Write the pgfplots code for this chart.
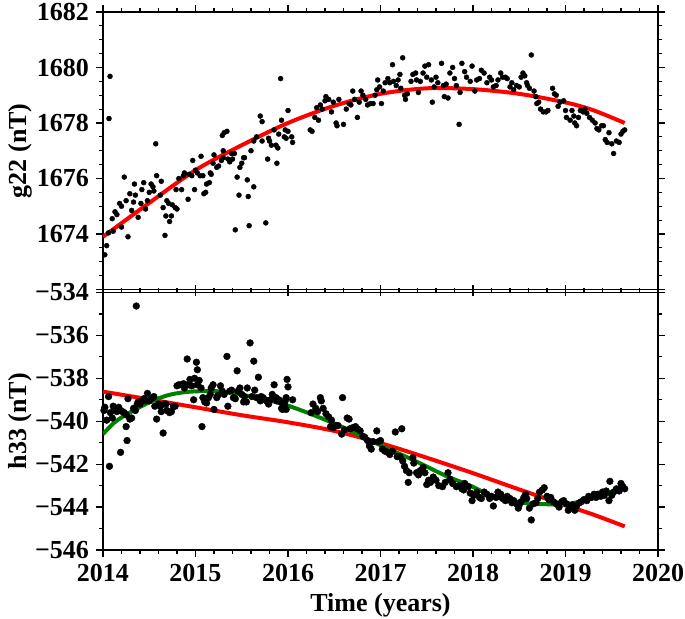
\documentclass[border=0pt]{standalone}
\usepackage{fontspec}
\setmainfont{Liberation Serif}
\usepackage{pgfplots}
\pgfplotsset{compat=1.18}
\definecolor{fitgreen}{RGB}{0,128,0}
\definecolor{fitred}{RGB}{255,0,0}

\begin{document}
\begin{tikzpicture}
\pgfplotsset{
 every axis/.append style={
  scale only axis, width=277.5pt,
  xmin=2014, xmax=2020,
  axis line style={line width=0.8pt},
  tick align=outside, tick style={line width=0.6pt, black},
  major tick length=3.5pt, minor tick length=2pt,
  xtick={2014,2015,2016,2017,2018,2019,2020}, minor x tick num=4,
  tick label style={font=\fontsize{13}{13}\selectfont\bfseries},
  /pgf/number format/assume math mode=true,
  every axis y label/.style={at={(axis description cs:-0.1495,0.5)}, anchor=center, rotate=90, font=\fontsize{13}{13}\selectfont\bfseries},
  every axis x label/.style={at={(axis description cs:0.5,0)}, anchor=center, yshift=-27.5pt, font=\fontsize{13}{13}\selectfont\bfseries},
 },
}
% ---------- top panel ----------
\begin{axis}[at={(0pt,130.25pt)}, anchor=south west, height=138.75pt,
  ymin=1672, ymax=1682, ytick={1672,1674,1676,1678,1680,1682},
  yticklabels={,1674,1676,1678,1680,1682}, minor y tick num=3,
  xticklabels={}, ylabel={g22 (nT)}]
\addplot[only marks, mark=*, mark size=1.25pt, mark options={fill=black, draw=black, line width=0.2pt}] coordinates {
(2014.02,1673.25)(2014.04,1673.58)(2014.06,1674.04)(2014.065,1678.16)(2014.076,1679.68)
(2014.10,1674.55)(2014.11,1674.10)(2014.13,1674.80)(2014.15,1674.70)(2014.18,1675.10)
(2014.20,1675.00)(2014.20,1674.25)(2014.23,1676.05)(2014.25,1675.20)(2014.27,1673.90)
(2014.29,1675.45)(2014.31,1674.85)(2014.33,1675.15)(2014.34,1675.80)(2014.35,1675.40)
(2014.38,1674.60)(2014.41,1675.10)(2014.42,1675.60)(2014.44,1675.85)(2014.46,1674.90)
(2014.48,1675.20)(2014.50,1675.50)(2014.52,1675.80)(2014.54,1675.70)(2014.55,1675.55)
(2014.57,1677.25)(2014.58,1676.10)(2014.62,1675.40)(2014.63,1675.90)(2014.65,1674.95)
(2014.67,1673.95)(2014.68,1674.65)(2014.69,1675.20)(2014.71,1675.10)(2014.72,1674.45)
(2014.74,1674.65)(2014.75,1675.05)(2014.78,1674.95)(2014.79,1675.60)(2014.80,1674.90)
(2014.82,1676.00)(2014.85,1675.60)(2014.87,1676.10)(2014.88,1676.20)(2014.92,1675.25)
(2014.93,1676.15)(2014.96,1676.10)(2014.97,1676.65)(2014.99,1675.60)(2015.00,1676.30)
(2015.02,1676.20)(2015.05,1676.10)(2015.06,1676.80)(2015.08,1676.10)(2015.09,1675.45)
(2015.11,1675.50)(2015.12,1675.80)(2015.15,1675.85)(2015.16,1676.20)(2015.17,1676.15)
(2015.19,1676.55)(2015.20,1676.85)(2015.23,1676.40)(2015.25,1676.45)(2015.28,1676.65)
(2015.29,1677.55)(2015.30,1677.00)(2015.30,1676.75)(2015.31,1677.65)(2015.34,1677.70)
(2015.35,1676.70)(2015.37,1676.60)(2015.39,1676.90)(2015.40,1676.70)(2015.42,1676.90)
(2015.43,1674.15)(2015.45,1676.05)(2015.47,1675.40)(2015.48,1676.40)(2015.50,1676.55)
(2015.52,1676.75)(2015.53,1676.75)(2015.56,1675.95)(2015.57,1675.35)(2015.58,1674.30)
(2015.60,1677.00)(2015.63,1675.70)(2015.63,1677.35)(2015.66,1677.50)(2015.70,1678.25)
(2015.72,1678.05)(2015.72,1677.35)(2015.76,1674.40)(2015.78,1676.70)(2015.79,1677.45)
(2015.80,1677.35)(2015.82,1677.20)(2015.85,1677.75)(2015.87,1677.20)(2015.88,1676.55)
(2015.89,1677.10)(2015.90,1677.60)(2015.92,1679.60)(2015.93,1678.10)(2015.96,1677.50)
(2015.97,1677.75)(2015.98,1677.45)(2016.00,1678.45)(2016.00,1677.70)(2016.04,1677.50)
(2016.05,1677.30)
(2016.24,1677.75)(2016.26,1677.70)(2016.29,1678.20)(2016.31,1678.55)(2016.33,1678.10)
(2016.35,1678.65)(2016.37,1678.50)(2016.40,1678.80)(2016.41,1678.95)(2016.44,1678.85)
(2016.47,1678.40)(2016.49,1678.75)(2016.52,1678.00)(2016.53,1677.90)(2016.55,1678.85)
(2016.60,1677.95)(2016.63,1678.50)(2016.66,1678.70)(2016.68,1678.65)(2016.70,1679.15)
(2016.72,1678.85)(2016.75,1678.20)(2016.77,1678.75)(2016.79,1679.15)(2016.81,1679.00)
(2016.84,1678.85)(2016.86,1678.65)(2016.89,1678.70)(2016.92,1678.70)(2016.94,1679.00)
(2016.96,1679.20)(2016.97,1679.55)(2016.99,1679.30)(2017.01,1678.70)(2017.03,1679.15)
(2017.05,1679.45)(2017.08,1679.60)(2017.10,1679.45)(2017.13,1680.10)(2017.14,1679.50)
(2017.17,1679.35)(2017.19,1679.55)(2017.21,1679.75)(2017.22,1679.25)(2017.24,1680.35)
(2017.26,1679.00)(2017.27,1678.85)(2017.29,1679.05)(2017.33,1679.50)(2017.35,1679.75)
(2017.38,1679.80)(2017.39,1679.55)(2017.41,1679.10)(2017.43,1679.50)(2017.46,1679.80)
(2017.48,1680.05)(2017.50,1679.65)(2017.52,1680.10)(2017.55,1679.55)(2017.56,1678.75)
(2017.58,1679.30)(2017.60,1679.65)(2017.62,1679.45)(2017.66,1680.15)(2017.68,1679.35)
(2017.69,1678.95)(2017.71,1679.40)(2017.73,1678.90)(2017.75,1679.80)(2017.78,1680.00)
(2017.80,1679.60)(2017.82,1679.35)(2017.85,1677.95)(2017.86,1679.10)(2017.88,1680.15)
(2017.91,1679.85)(2017.93,1679.65)(2017.97,1679.50)(2017.99,1680.05)(2018.02,1679.15)
(2018.04,1679.55)(2018.07,1679.60)(2018.09,1679.90)(2018.12,1679.80)(2018.15,1679.45)
(2018.18,1679.65)(2018.20,1679.55)(2018.22,1679.30)(2018.25,1679.35)(2018.27,1679.55)
(2018.30,1679.80)(2018.32,1679.65)(2018.35,1679.65)(2018.37,1679.60)(2018.40,1679.30)
(2018.42,1679.45)(2018.44,1679.20)(2018.47,1679.35)(2018.50,1679.30)(2018.52,1679.65)
(2018.54,1679.80)(2018.56,1679.70)(2018.58,1679.45)(2018.59,1679.35)(2018.61,1679.25)
(2018.63,1680.45)(2018.66,1679.15)(2018.68,1678.95)(2018.69,1678.70)(2018.71,1678.75)
(2018.73,1678.50)(2018.76,1678.40)(2018.79,1678.40)(2018.81,1678.45)(2018.86,1679.25)
(2018.88,1679.05)(2018.90,1679.00)(2018.92,1678.60)(2018.94,1678.75)(2018.98,1678.80)
(2019.00,1678.45)(2019.01,1678.20)(2019.05,1678.10)(2019.07,1678.45)(2019.09,1678.25)
(2019.10,1678.00)(2019.12,1677.90)(2019.14,1678.20)(2019.16,1678.45)(2019.19,1678.40)
(2019.21,1678.50)(2019.23,1678.35)(2019.26,1678.20)(2019.29,1678.10)(2019.32,1678.00)
(2019.34,1677.80)(2019.36,1677.75)(2019.39,1677.90)(2019.41,1677.90)(2019.43,1677.40)
(2019.45,1677.30)(2019.47,1677.65)(2019.50,1677.25)(2019.52,1676.90)(2019.55,1677.35)
(2019.58,1677.30)(2019.60,1677.60)(2019.62,1677.70)(2019.64,1677.75)
};
\addplot[fitred, line width=2pt, smooth] coordinates {
(2014.00,1673.90)(2014.50,1675.12)(2015.00,1676.30)(2015.50,1677.20)(2016.00,1678.00)
(2016.50,1678.62)(2017.00,1679.05)(2017.50,1679.25)(2018.00,1679.22)(2018.50,1679.05)
(2019.00,1678.74)(2019.30,1678.46)(2019.64,1678.00)
};
\end{axis}
% ---------- bottom panel ----------
\begin{axis}[at={(0pt,0pt)}, anchor=south west, height=128.75pt,
  ymin=-546, ymax=-534, ytick={-546,-544,-542,-540,-538,-536,-534},
  yticklabels={−546,−544,−542,−540,−538,−536,−534}, minor y tick num=1,
  xticklabels={2014,2015,2016,2017,2018,2019,2020},
  ylabel={h33 (nT)}, xlabel={Time (years)}]
\addplot[only marks, mark=*, mark size=1.7pt, mark options={fill=black, draw=black, line width=0.2pt}] coordinates {
(2014.36,-534.63)(2014.07,-542.10)(2014.19,-541.45)(2014.26,-540.90)(2014.25,-540.25)
(2014.02,-539.35)(2014.01,-539.50)(2014.04,-539.95)(2014.06,-538.85)(2014.08,-539.60)
(2014.11,-539.30)(2014.10,-539.85)(2014.13,-539.45)(2014.15,-539.55)(2014.17,-539.35)
(2014.19,-539.50)(2014.21,-539.55)(2014.23,-539.60)(2014.25,-539.70)(2014.27,-538.95)
(2014.29,-539.90)(2014.31,-539.85)(2014.33,-539.40)(2014.35,-539.50)(2014.37,-539.20)
(2014.38,-539.10)(2014.40,-539.20)(2014.42,-539.05)(2014.44,-538.95)(2014.46,-539.05)
(2014.48,-538.70)(2014.50,-539.05)(2014.52,-538.95)(2014.54,-538.90)(2014.55,-538.85)
(2014.56,-539.30)(2014.58,-539.90)(2014.60,-539.20)(2014.62,-539.30)(2014.63,-539.55)
(2014.65,-540.55)(2014.66,-539.20)(2014.68,-539.20)(2014.69,-539.50)(2014.72,-539.60)
(2014.74,-539.55)(2014.76,-539.30)(2014.78,-539.30)(2014.80,-538.35)(2014.82,-538.30)
(2014.85,-538.30)(2014.87,-538.25)(2014.88,-538.45)(2014.89,-538.30)(2014.91,-537.10)
(2014.93,-538.30)(2014.94,-538.05)(2014.96,-538.35)(2014.98,-539.00)(2014.99,-538.00)
(2015.01,-537.25)(2015.02,-537.60)(2015.02,-538.30)(2015.04,-538.10)(2015.06,-538.45)
(2015.07,-540.25)(2015.08,-538.90)(2015.10,-539.10)(2015.12,-539.15)(2015.14,-538.90)
(2015.16,-538.75)(2015.17,-538.45)(2015.19,-538.30)(2015.20,-539.45)(2015.23,-538.90)
(2015.24,-538.80)(2015.27,-538.35)(2015.29,-538.60)(2015.31,-538.75)(2015.34,-536.98)
(2015.35,-539.30)(2015.37,-538.60)(2015.39,-538.55)(2015.41,-538.90)(2015.43,-538.95)
(2015.45,-537.65)(2015.46,-538.60)(2015.48,-538.45)(2015.50,-538.75)(2015.52,-539.10)
(2015.53,-538.85)(2015.55,-539.10)(2015.56,-538.45)(2015.59,-536.35)(2015.61,-538.85)
(2015.63,-537.20)(2015.64,-538.55)(2015.66,-538.90)(2015.68,-537.95)(2015.70,-539.05)
(2015.71,-538.85)(2015.73,-538.90)(2015.75,-539.00)(2015.77,-539.05)(2015.79,-539.20)
(2015.81,-539.00)(2015.83,-538.75)(2015.85,-538.30)(2015.87,-538.90)(2015.88,-539.05)
(2015.90,-539.00)(2015.92,-539.10)(2015.94,-539.45)(2015.96,-539.25)(2015.98,-538.90)
(2015.99,-538.05)(2016.00,-538.40)(2015.91,-539.05)(2015.93,-539.40)(2015.97,-539.05)
(2015.98,-539.45)(2016.05,-539.00)
(2016.25,-539.60)(2016.27,-539.20)(2016.30,-539.40)(2016.32,-539.55)(2016.35,-538.90)
(2016.36,-539.05)(2016.38,-539.40)(2016.41,-539.65)(2016.44,-539.80)(2016.47,-539.95)
(2016.46,-540.25)(2016.49,-540.30)(2016.52,-540.20)(2016.54,-540.20)(2016.58,-540.60)
(2016.59,-538.90)(2016.61,-540.40)(2016.64,-539.85)(2016.66,-539.90)(2016.67,-540.35)
(2016.70,-540.30)(2016.73,-540.25)(2016.75,-540.35)(2016.78,-540.45)(2016.81,-540.70)
(2016.83,-540.75)(2016.86,-540.90)(2016.88,-541.15)(2016.90,-541.30)(2016.92,-540.95)
(2016.96,-540.45)(2016.98,-540.95)(2017.00,-540.90)(2017.02,-541.30)(2017.05,-541.40)
(2017.08,-541.45)(2017.10,-541.55)(2017.13,-541.40)(2017.16,-540.50)(2017.18,-541.65)
(2017.21,-541.65)(2017.23,-540.35)(2017.24,-541.85)(2017.26,-542.10)(2017.28,-542.30)
(2017.30,-542.85)(2017.31,-542.40)(2017.35,-541.70)(2017.36,-541.95)(2017.39,-542.40)
(2017.41,-542.50)(2017.43,-542.30)(2017.46,-542.15)(2017.48,-542.40)(2017.50,-542.95)
(2017.52,-542.75)(2017.54,-542.85)(2017.57,-542.60)(2017.60,-542.75)(2017.63,-543.00)
(2017.67,-543.05)(2017.70,-542.85)(2017.73,-542.40)(2017.75,-542.70)(2017.78,-542.90)
(2017.82,-543.05)(2017.85,-543.00)(2017.88,-543.15)(2017.91,-542.90)(2017.95,-543.05)
(2017.90,-543.20)(2017.97,-543.35)(2017.99,-543.70)(2018.01,-543.45)(2018.04,-543.30)
(2018.07,-543.55)(2018.09,-543.60)(2018.12,-543.30)(2018.15,-543.40)(2018.18,-543.60)
(2018.20,-543.50)(2018.22,-543.95)(2018.25,-543.55)(2018.27,-543.30)(2018.30,-543.40)
(2018.32,-543.60)(2018.35,-543.70)(2018.37,-543.50)(2018.40,-543.60)(2018.42,-543.80)
(2018.44,-543.70)(2018.47,-543.85)(2018.49,-544.05)(2018.50,-543.90)(2018.52,-543.75)
(2018.55,-543.55)(2018.57,-543.40)(2018.58,-543.60)(2018.61,-544.05)(2018.63,-544.60)
(2018.65,-543.85)(2018.68,-543.80)(2018.70,-543.60)(2018.72,-543.30)(2018.75,-543.20)
(2018.77,-543.10)(2018.80,-543.50)(2018.82,-543.65)(2018.84,-543.55)(2018.87,-543.75)
(2018.90,-543.85)(2018.93,-544.00)(2018.96,-543.75)(2018.98,-543.70)(2019.01,-543.85)
(2019.03,-544.15)(2019.05,-544.00)(2019.08,-543.90)(2019.10,-544.15)(2019.12,-543.95)
(2019.15,-543.80)(2019.17,-543.75)(2019.20,-543.65)(2019.23,-543.70)(2019.25,-543.50)
(2019.28,-543.55)(2019.31,-543.40)(2019.33,-543.55)(2019.35,-543.40)(2019.38,-543.50)
(2019.40,-543.30)(2019.42,-543.45)(2019.44,-543.25)(2019.47,-543.70)(2019.48,-542.80)
(2019.50,-543.45)(2019.52,-543.30)(2019.55,-543.15)(2019.58,-543.25)(2019.60,-542.90)
(2019.62,-543.05)(2019.64,-543.15)
};
\addplot[fitred, line width=2pt, smooth] coordinates {
(2014.00,-538.62)(2014.50,-538.98)(2015.00,-539.35)(2015.50,-539.72)(2016.00,-540.05)
(2016.50,-540.45)(2017.00,-541.02)(2017.50,-541.70)(2018.00,-542.42)(2018.50,-543.18)
(2019.00,-543.92)(2019.30,-544.35)(2019.64,-544.90)
};
\addplot[fitgreen, line width=2pt, smooth] coordinates {
(2014.00,-540.60)(2014.14,-540.00)(2014.33,-539.50)(2014.51,-539.10)(2014.69,-538.80)
(2014.87,-538.65)(2015.05,-538.60)(2015.23,-538.60)(2015.41,-538.68)(2015.59,-538.85)
(2015.77,-539.02)(2015.95,-539.20)(2016.27,-539.70)(2016.63,-540.35)(2016.99,-541.10)
(2017.35,-541.80)(2017.71,-542.55)(2017.97,-543.00)(2018.22,-543.50)(2018.58,-543.82)
(2018.94,-543.87)(2019.12,-543.78)(2019.30,-543.58)(2019.48,-543.32)(2019.64,-543.07)
};
\end{axis}
\pgfresetboundingbox
\useasboundingbox (-51.5pt,-34.5pt) rectangle (291pt,275pt);
\end{tikzpicture}
\end{document}
